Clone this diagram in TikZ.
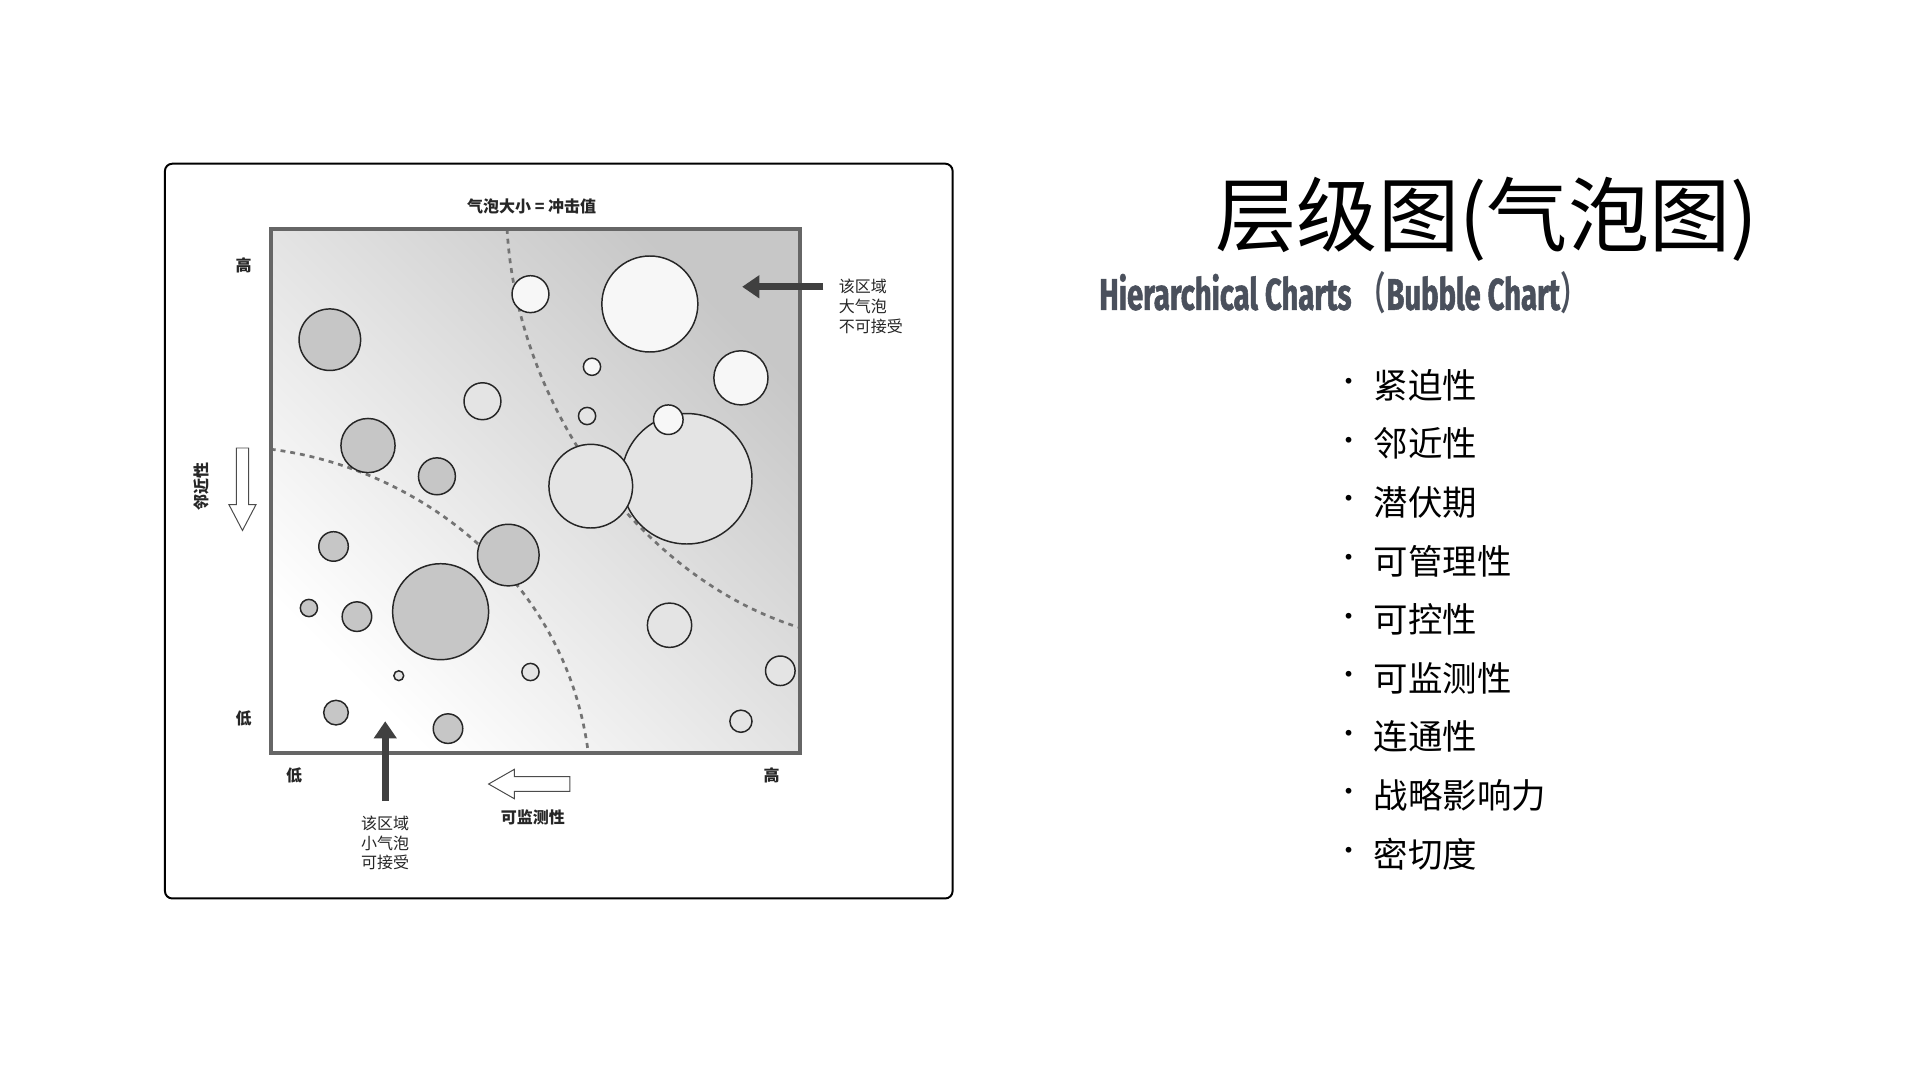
\documentclass[tikz,border=0pt]{standalone}
\usepackage{fontspec}
\setmainfont{Liberation Sans}
\newfontfamily\cjk{Noto Sans CJK SC}
\newfontfamily\cjkc{Noto Sans CJK SC}[FakeStretch=0.62,UprightFont={* Bold}]
\newfontfamily\cond{Fira Sans}[FakeStretch=0.66,FakeBold=1.2,UprightFont={* Bold}]
\usetikzlibrary{arrows.meta}
\definecolor{bgray}{HTML}{C6C6C6}
\definecolor{blight}{HTML}{E4E4E4}
\definecolor{bwhite}{HTML}{F7F7F7}
\definecolor{tdark}{HTML}{4A505C}
\tikzset{
 bub/.style={draw=black!85, line width=1.2pt},
 lab/.style={font=\cjk\bfseries\fontsize{13}{15}\selectfont, text=black!85},
 item/.style={font=\cjk\fontsize{28}{32}\selectfont, anchor=west, inner sep=0},
 dsh/.style={draw=black!55, line width=2.2pt, dash pattern=on 4pt off 4pt},
}
\begin{document}
\begin{tikzpicture}[x=1pt,y=-1pt]
\useasboundingbox (0,0) rectangle (1560,880);
\fill[white] (0,0) rectangle (1560,880);
\draw[line width=1.6pt, rounded corners=6pt] (134,133) rectangle (774,730);
\shade[shading=axis, left color=white, right color=black!22, shading angle=135] (220,186) rectangle (650,612);
\node[lab] (top) at (432,168) {气泡大小 = 冲击值};
% dashed curves
\draw[dsh] (412,186) .. controls (420,330) and (520,470) .. (650,510);
\draw[dsh] (220,365) .. controls (340,380) and (460,470) .. (478,612);
% bubbles
\foreach \x/\y/\r/\c in {268/276/25/bgray,431/239/15/bwhite,528/247/39/bwhite,481/298/7/bwhite,602/307/22/bwhite,392/326/15/blight,477/338/7/blight,299/362/22/bgray,355/387/15/bgray,558/389/53/blight,480/395/34/blight,543/341/12/bwhite,271/444/12/bgray,413/451/25/bgray,358/497/39/bgray,251/494/7/bgray,290/501/12/bgray,544/508/18/blight,324/549/4/blight,431/546/7/blight,634/545/12/blight,273/579/10/bgray,364/592/12/bgray,602/586/9/blight}
  {\draw[bub, fill=\c] (\x,\y) circle (\r);}
\draw[black!60, line width=3pt] (220,186) rectangle (650,612);
% axis labels
\node[lab] (yh) at (198,216) {高};
\node[lab] (yl) at (198,584) {低};
\node[lab] (xl) at (239,630) {低};
\node[lab] (xh) at (627,630) {高};
\node[lab, rotate=90] (prox) at (164,395) {邻近性};
\draw[draw=black!70, fill=white, line width=0.8pt] (192,364) -- (202,364) -- (202,410) -- (208,410) -- (197,431) -- (186,410) -- (192,410) -- cycle;
\draw[draw=black!70, fill=white, line width=0.8pt] (463,631) -- (463,643) -- (418,643) -- (418,649) -- (397,637) -- (418,625) -- (418,631) -- cycle;
\node[lab] (mon) at (433,664) {可监测性};
% black arrows
\coordinate (ua) at (313,651); \coordinate (ub) at (313,586);
\draw[black!75, line width=6pt, -{Triangle[length=14pt,width=18pt]}] (ua) -- (ub);
\node[lab, font=\cjk\fontsize{13}{16}\selectfont, align=center] (sm) at (313,685) {该区域\\小气泡\\可接受};
\coordinate (ra) at (669,233); \coordinate (rb) at (603,233);
\draw[black!75, line width=6pt, -{Triangle[length=14pt,width=18pt]}] (ra) -- (rb);
\node[lab, font=\cjk\fontsize{13}{16}\selectfont, align=left, anchor=west] (lg) at (678,249) {该区域\\大气泡\\不可接受};
% title
\node[font=\cjk\fontsize{66}{72}\selectfont, inner sep=0] (title) at (1208,178) {层级图(气泡图)};
\node[font=\cond\fontsize{36}{40}\selectfont, text=tdark, inner sep=0, anchor=west] (sub) at (893,238) {Hierarchical Charts\hspace{6pt}{\cjkc （}Bubble Chart{\cjkc ）}};
\foreach \t [count=\i] in {紧迫性,邻近性,潜伏期,可管理性,可控性,可监测性,连通性,战略影响力,密切度}{
  \node[font=\cjk\fontsize{22}{24}\selectfont] (b\i) at (1096,{313+47.6*(\i-1)}) {·};
  \node[item] (t\i) at (1116,{313+47.6*(\i-1)}) {\t};
}
\end{tikzpicture}
\end{document}
